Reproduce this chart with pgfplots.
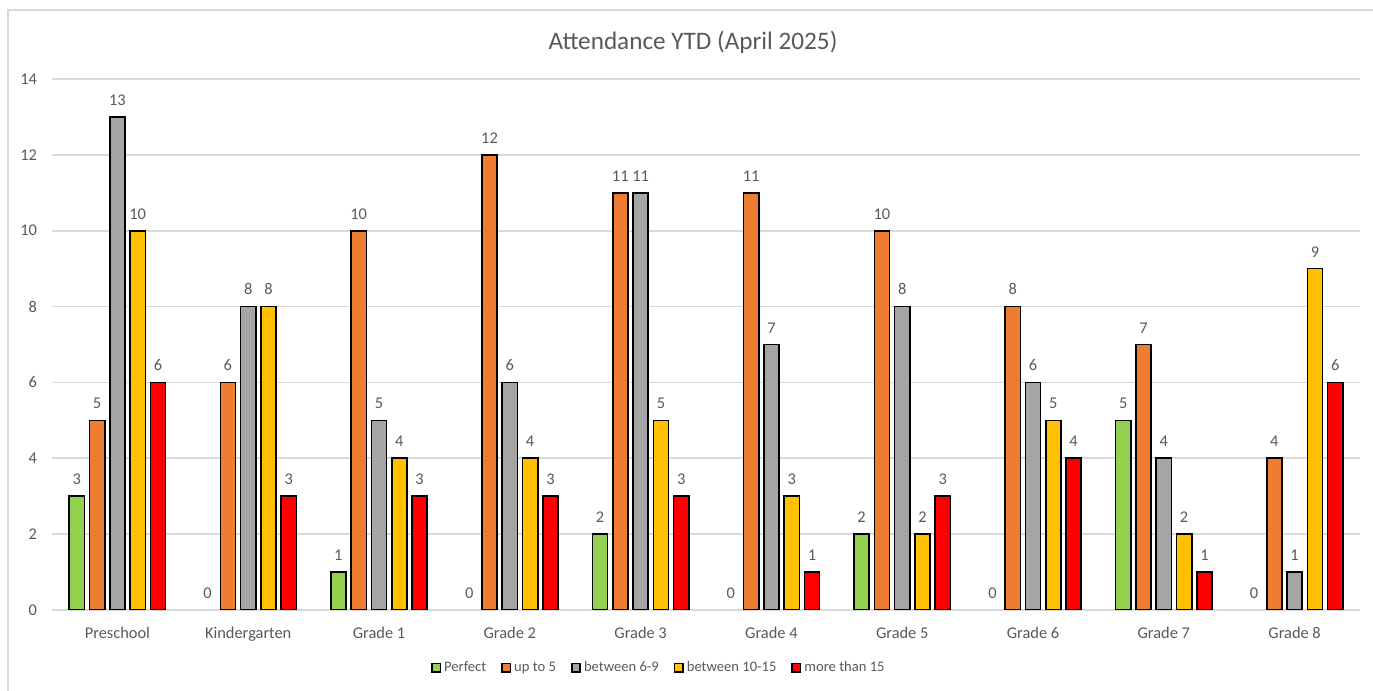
\documentclass[border=0pt]{standalone}
\usepackage{pgfplots}
\pgfplotsset{compat=1.18}
\usepackage{fontspec}
\setmainfont{Carlito}

\definecolor{cGreen}{HTML}{92D050}
\definecolor{cOrange}{HTML}{ED7D31}
\definecolor{cGray}{HTML}{A5A5A5}
\definecolor{cYellow}{HTML}{FFC000}
\definecolor{cRed}{HTML}{FF0000}
\definecolor{txt}{HTML}{595959}
\definecolor{gridc}{HTML}{D9D9D9}

\begin{document}
\begin{tikzpicture}
  \useasboundingbox (0,0) rectangle (686.5pt,345.5pt);
  \draw[gridc, line width=1pt] (4pt,0) -- (4pt,340.5pt) -- (686.5pt,340.5pt);
  \node[txt, font=\fontsize{12.6}{14}\selectfont] at (346.5pt,324.5pt) {Attendance YTD (April 2025)};
  \begin{axis}[
      at={(26pt,40.5pt)}, anchor=south west,
      scale only axis,
      width=654pt, height=265.5pt,
      ybar, bar width=7.6pt,
      xmin=-0.5, xmax=9.5,
      ymin=0, ymax=14,
      ytick={0,2,...,14},
      xtick={0,...,9},
      xticklabels={Preschool,Kindergarten,Grade 1,Grade 2,Grade 3,Grade 4,Grade 5,Grade 6,Grade 7,Grade 8},
      major tick length=0pt,
      axis line style={draw=none},
      ymajorgrids,
      grid style={draw=gridc, line width=0.9pt},
      tick label style={txt, font=\fontsize{8.2}{10}\selectfont},
      /pgf/number format/assume math mode=true,
      xticklabel style={yshift=-5pt},
      yticklabel style={xshift=-4pt},
      every axis plot/.append style={draw=black, line width=0.8pt},
      nodes near coords,
      every node near coord/.append style={txt, font=\fontsize{8.2}{10}\selectfont, yshift=2pt},
      legend columns=-1,
      legend style={at={(0.464,-0.109)}, anchor=center, draw=none, fill=none,
        font=\fontsize{7.3}{9}\selectfont, text=txt,
        nodes={inner sep=1pt},
        /tikz/every odd column/.append style={column sep=0.5pt},
        /tikz/every even column/.append style={column sep=6.5pt}},
      legend image code/.code={\draw[#1, line width=0.8pt] (0pt,-2.1pt) rectangle (4.2pt,2.1pt);},
    ]
    \addplot[fill=cGreen, bar shift=-20.3pt] coordinates {(0,3) (2,1) (4,2) (6,2) (8,5)};
    \addlegendentry{Perfect}
    \addplot[fill=cOrange, bar shift=-10.15pt] coordinates {(0,5) (1,6) (2,10) (3,12) (4,11) (5,11) (6,10) (7,8) (8,7) (9,4)};
    \addlegendentry{up to 5}
    \addplot[fill=cGray, bar shift=0pt] coordinates {(0,13) (1,8) (2,5) (3,6) (4,11) (5,7) (6,8) (7,6) (8,4) (9,1)};
    \addlegendentry{between 6-9}
    \addplot[fill=cYellow, bar shift=10.15pt] coordinates {(0,10) (1,8) (2,4) (3,4) (4,5) (5,3) (6,2) (7,5) (8,2) (9,9)};
    \addlegendentry{between 10-15}
    \addplot[fill=cRed, bar shift=20.3pt] coordinates {(0,6) (1,3) (2,3) (3,3) (4,3) (5,1) (6,3) (7,4) (8,1) (9,6)};
    \addlegendentry{more than 15}
    \addplot[draw=none, fill=none, bar shift=-20.3pt, forget plot] coordinates {(1,0) (3,0) (5,0) (7,0) (9,0)};
  \end{axis}
\end{tikzpicture}
\end{document}
